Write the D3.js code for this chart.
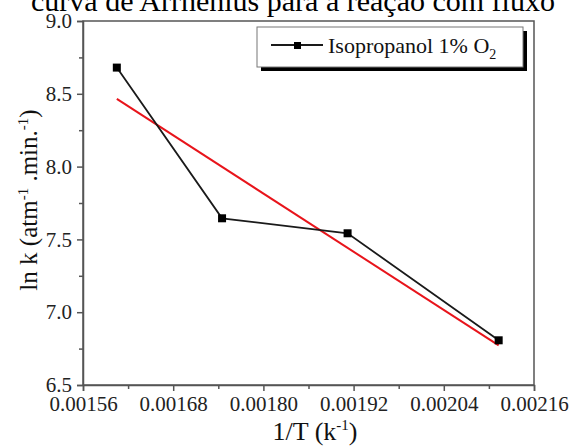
<!DOCTYPE html>
<html><head><meta charset="utf-8">
<script src="https://cdn.jsdelivr.net/npm/d3@7"></script>
<style>body{margin:0;background:#fff}svg{display:block}svg text{font-family:"Liberation Serif","Times New Roman",serif !important}</style>
</head><body><svg id="c" width="570" height="446"></svg>
<script>
const titleText = "curva de Arrhenius para a reação com fluxo";
const seriesName = "Isopropanol 1% O";
const invT = [0.001605, 0.001745, 0.001912, 0.002113];
const lnK = [8.68, 7.645, 7.542, 6.807];
const fitX = [0.001605, 0.002113];
const fitY = [8.465, 6.772];
const xTicks = [0.00156, 0.00168, 0.00180, 0.00192, 0.00204, 0.00216];
const xMinor = [0.00162, 0.00174, 0.00186, 0.00198, 0.00210];
const yTicks = [6.5, 7.0, 7.5, 8.0, 8.5, 9.0];
const yMinor = [6.75, 7.25, 7.75, 8.25, 8.75];

const svg = d3.select("#c");
const L = 83, R = 534, T = 21, B = 385;
const x = d3.scaleLinear().domain([0.00156, 0.00216]).range([L, R]);
const y = d3.scaleLinear().domain([6.5, 9.0]).range([B, T]);
const axisColor = "#555";
const serif = "Liberation Serif, Times New Roman, serif";

// title (clipped at top)
svg.append("text").attr("x", 293).attr("y", 11).attr("text-anchor", "middle")
  .attr("font-size", 30).attr("fill", "#000").text(titleText);

// frame
svg.append("rect").attr("x", L).attr("y", T).attr("width", R - L).attr("height", B - T)
  .attr("fill", "none").attr("stroke", axisColor).attr("stroke-width", 1.5);

// x axis
svg.append("g").attr("transform", `translate(0,${B})`)
  .call(d3.axisBottom(x).tickValues(xTicks).tickFormat(d3.format(".5f")).tickSize(6).tickPadding(5));
svg.append("g").attr("transform", `translate(0,${B})`)
  .call(d3.axisBottom(x).tickValues(xMinor).tickFormat("").tickSize(4))
  .call(g => g.select(".domain").remove());
// y axis
svg.append("g").attr("transform", `translate(${L},0)`)
  .call(d3.axisLeft(y).tickValues(yTicks).tickFormat(d3.format(".1f")).tickSize(6).tickPadding(5));
svg.append("g").attr("transform", `translate(${L},0)`)
  .call(d3.axisLeft(y).tickValues(yMinor).tickFormat("").tickSize(4))
  .call(g => g.select(".domain").remove());
svg.selectAll("g").attr("font-family", serif);
svg.selectAll(".domain").attr("stroke", axisColor).attr("stroke-width", 1.5);
svg.selectAll(".tick line").attr("stroke", axisColor).attr("stroke-width", 1.5);
svg.selectAll(".tick text").style("font-size", "21px").attr("fill", "#222");

// axis labels
svg.append("text").attr("x", 315).attr("y", 440).attr("text-anchor", "middle").attr("font-size", 26).attr("fill", "#111")
  .html('1/T (k<tspan dy="-10" font-size="15">-1</tspan><tspan dy="10">)</tspan>');
svg.append("text").attr("transform", "translate(37,200) rotate(-90)").attr("text-anchor", "middle").attr("font-size", 25).attr("fill", "#111")
  .html('ln k (atm<tspan dy="-9" font-size="15">-1</tspan><tspan dy="9"> .min.</tspan><tspan dy="-9" font-size="15">-1</tspan><tspan dy="9">)</tspan>');

// fit line
const line = d3.line().x(d => x(d[0])).y(d => y(d[1]));
svg.append("path").datum(fitX.map((v, i) => [v, fitY[i]])).attr("d", line)
  .attr("fill", "none").attr("stroke", "#e8141b").attr("stroke-width", 2);
// data line
const pts = invT.map((v, i) => [v, lnK[i]]);
svg.append("path").datum(pts).attr("d", line).attr("fill", "none").attr("stroke", "#1a1a1a").attr("stroke-width", 1.8);
svg.selectAll(".pt").data(pts).enter().append("rect")
  .attr("x", d => x(d[0]) - 4).attr("y", d => y(d[1]) - 4).attr("width", 8).attr("height", 8).attr("fill", "#000");

// legend
const lg = svg.append("g");
lg.append("rect").attr("x", 261).attr("y", 31).attr("width", 266).attr("height", 40).attr("fill", "#000");
lg.append("rect").attr("x", 257).attr("y", 27).attr("width", 266).attr("height", 40).attr("fill", "#fff").attr("stroke", "#777").attr("stroke-width", 1);
lg.append("line").attr("x1", 271).attr("x2", 323).attr("y1", 45).attr("y2", 45).attr("stroke", "#1a1a1a").attr("stroke-width", 1.8);
lg.append("rect").attr("x", 294).attr("y", 42).attr("width", 7).attr("height", 7).attr("fill", "#000");
lg.append("text").attr("x", 328).attr("y", 53).attr("font-size", 22).attr("fill", "#111")
  .html(seriesName + '<tspan dy="6" font-size="14">2</tspan>');
</script></body></html>
